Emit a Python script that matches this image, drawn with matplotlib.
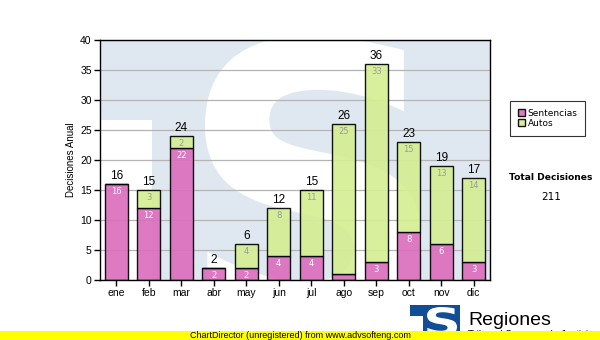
import matplotlib
matplotlib.use("Agg")
import matplotlib.pyplot as plt
import numpy as np
from matplotlib.patches import Rectangle, PathPatch
from matplotlib.textpath import TextPath
from matplotlib.font_manager import FontProperties
from matplotlib.transforms import Affine2D

# monthly decisions
months = ["ene", "feb", "mar", "abr", "may", "jun", "jul", "ago", "sep", "oct", "nov", "dic"]
sentencias = [16, 12, 22, 2, 2, 4, 4, 1, 3, 8, 6, 3]
autos = [0, 3, 2, 0, 4, 8, 11, 25, 33, 15, 13, 14]
series_names = ["Sentencias", "Autos"]
total_label = "Total Decisiones"

PINK = "#dc6fbd"
GREEN = "#d5ee94"
WATER = "#dfe8f1"
LOGO_BLUE = "#124e98"

W, H = 600, 340
fig = plt.figure(figsize=(W / 100, H / 100), dpi=100)
fig.patch.set_facecolor("white")


def px_box(x0, y0, x1, y1):
    # pixel box (top-left origin) -> figure fraction rect
    return [x0 / W, 1 - y1 / H, (x1 - x0) / W, (y1 - y0) / H]


def letter_patch(ch, x0, y0, x1, y1, color, transform, **kw):
    # glyph outline stretched to fill the box (x0,y0)-(x1,y1)
    tp = TextPath((0, 0), ch, size=100,
                  prop=FontProperties(family="DejaVu Sans", weight="bold"))
    ext = tp.get_extents()
    sx = (x1 - x0) / ext.width
    sy = (y1 - y0) / ext.height
    tr = Affine2D().translate(-ext.x0, -ext.y0).scale(sx, sy).translate(x0, y0)
    return PathPatch(tr.transform_path(tp), facecolor=color, edgecolor="none",
                     transform=transform, **kw)


AX_L, AX_T, AX_R, AX_B = 100, 40, 490, 280
ax = fig.add_axes(px_box(AX_L, AX_T, AX_R, AX_B))
ax.set_facecolor(WATER)


def ax_frac(px, py):
    return (px - AX_L) / (AX_R - AX_L), (AX_B - py) / (AX_B - AX_T)


# faint logo behind the bars
wx, wy = ax_frac(152, 120)
ax.add_patch(Rectangle((0, 0), wx, wy, transform=ax.transAxes,
                       facecolor="white", edgecolor="none", zorder=0.2))
sx0, sy1 = ax_frac(205, 36)
sx1, sy0 = ax_frac(422, 335)
s_patch = letter_patch("S", sx0, sy0, sx1, sy1, "white", ax.transAxes, zorder=0.3)
s_patch.set_clip_path(ax.patch)
ax.add_patch(s_patch)

x = np.arange(len(months))
sent = np.array(sentencias)
aut = np.array(autos)
tot = sent + aut

ax.bar(x, sent, width=0.7, color=PINK, edgecolor="black", linewidth=1,
       alpha=0.92, zorder=3, label=series_names[0])
ax.bar(x, aut, width=0.7, bottom=sent, color=GREEN, edgecolor="black",
       linewidth=1, alpha=0.92, zorder=3, label=series_names[1])

for i in range(len(months)):
    ax.text(x[i], tot[i] + 0.3, str(tot[i]), ha="center", va="bottom",
            fontsize=8.5, family="Liberation Sans", color="black", zorder=4)
    if sent[i] >= 2:
        ax.text(x[i], sent[i] - 0.45, str(sent[i]), ha="center", va="top",
                fontsize=6, family="DejaVu Sans", color="white", zorder=4)
    if aut[i] >= 2:
        ax.text(x[i], tot[i] - 0.45, str(aut[i]), ha="center", va="top",
                fontsize=6, family="DejaVu Sans", color="#9a9a9a", zorder=4)

ax.set_xlim(-0.5, len(months) - 0.5)
ax.set_ylim(0, 40)
ax.set_yticks(range(0, 41, 5))
ax.set_xticks(x)
ax.set_xticklabels(months)
ax.grid(axis="y", color="#b4b4b4", linewidth=0.9, zorder=1)
ax.set_axisbelow(True)
for sp in ax.spines.values():
    sp.set_color("black")
    sp.set_linewidth(1)
    sp.set_zorder(5)
ax.tick_params(axis="both", length=4, width=1, color="black", labelsize=7.5,
               pad=2)
for lab in ax.get_xticklabels() + ax.get_yticklabels():
    lab.set_family("Liberation Sans")
ax.set_ylabel("Decisiones Anual", fontsize=7, family="Liberation Sans",
              labelpad=3)

# legend and total on the right
leg = fig.legend(handles=[ax.containers[0][0], ax.containers[1][0]],
                 labels=series_names, loc="upper left",
                 bbox_to_anchor=(510 / W, 1 - 101 / H), frameon=True,
                 fancybox=False, edgecolor="black", fontsize=6.5,
                 handlelength=0.8, handleheight=0.8, handletextpad=0.3,
                 borderpad=0.85, labelspacing=0.15, borderaxespad=0)
leg.get_frame().set_linewidth(0.8)
for t in leg.get_texts():
    t.set_family("DejaVu Sans")

fig.text(551 / W, 1 - 178 / H, total_label, ha="center", va="center",
         fontsize=6.6, fontweight="bold", family="DejaVu Sans")
fig.text(551 / W, 1 - 197 / H, str(int(tot.sum())), ha="center", va="center",
         fontsize=7.5, family="DejaVu Sans")

# footer: logo and banner
ov = fig.add_axes([0, 0, 1, 1], zorder=10)
ov.set_xlim(0, W)
ov.set_ylim(H, 0)
ov.axis("off")
ov.add_patch(Rectangle((410, 305), 50, 35, facecolor=LOGO_BLUE, edgecolor="none"))
ov.add_patch(Rectangle((410, 316), 13, 24, facecolor="white", edgecolor="none"))
ov.add_patch(letter_patch("S", 427, 336, 457, 307, "white", ov.transData))
ov.text(468, 325, "Regiones", fontsize=14, family="Liberation Sans",
        ha="left", va="baseline")
ov.text(468, 337.5, "Tribunal Supremo de Justicia", fontsize=7,
        family="Liberation Sans", ha="left", va="baseline", zorder=4)
ov.add_patch(Rectangle((0, 330.5), W, 10, facecolor="#ffff00", edgecolor="none",
                       zorder=5))
ov.text(190, 335.5, "ChartDirector (unregistered) from www.advsofteng.com",
        fontsize=6.5, family="Liberation Sans", ha="left", va="center", zorder=6)

fig.savefig("out.png", dpi=100)
